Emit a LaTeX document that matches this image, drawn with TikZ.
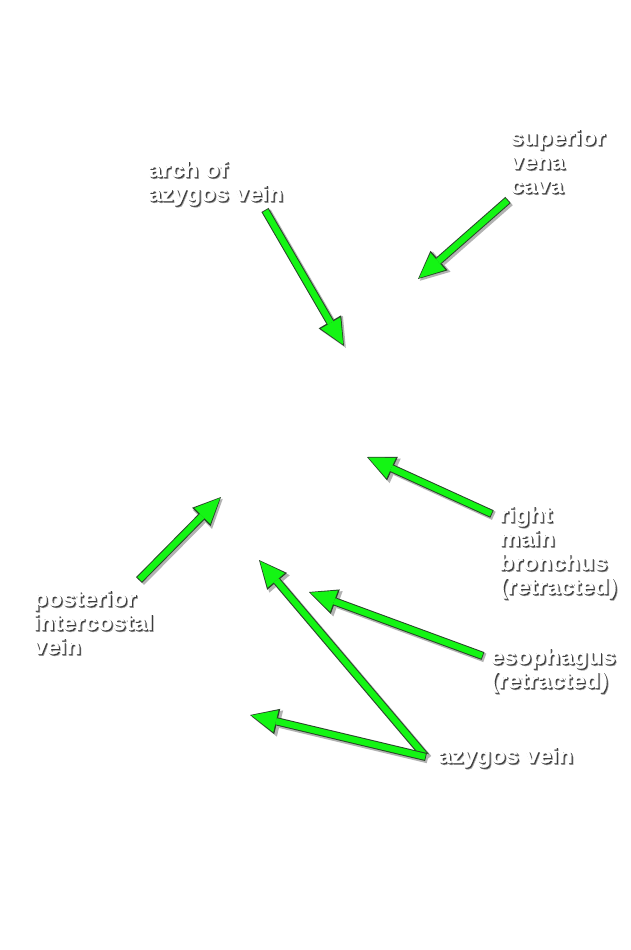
\documentclass[tikz,border=0pt]{standalone}
\usepackage{fontspec}
\usetikzlibrary{arrows.meta}
\newfontfamily\lblfont{Liberation Sans}[UprightFont={* Bold}, FakeStretch=1.08, FakeBold=1.2]
\definecolor{arrowgreen}{RGB}{20,245,20}
\definecolor{arrowedge}{RGB}{40,70,40}
\definecolor{txtshadow}{RGB}{60,60,60}
\newcommand\shline[1]{\hbox{\rlap{\kern1.8pt\raisebox{-1.8pt}{\textcolor{txtshadow!45}{#1}}}\rlap{\kern1.1pt\raisebox{-1.1pt}{\textcolor{txtshadow}{#1}}}\textcolor{white}{#1}}}
\newcommand\garrow[2]{%
  \draw[arrshadow] (#1) -- (#2);
  \draw[arredge] (#1) -- (#2);
  \draw[arrfill] (#1) -- (#2);}
\tikzset{
  lbl/.style={inner sep=0pt, anchor=base west, font=\lblfont\fontsize{22}{24}\selectfont},
  arrshadow/.style={draw=black!30, line width=9pt, -{Triangle[length=29pt,width=27pt,line width=0pt]}, transform canvas={xshift=1.8pt,yshift=-1.8pt}},
  arredge/.style={draw=arrowedge, line width=8.2pt, -{Triangle[length=28pt,width=26pt,line width=0pt]}},
  arrfill/.style={draw=arrowgreen, line width=6.2pt, shorten >=1.6pt, shorten <=0.9pt, -{Triangle[length=25pt,width=22.5pt,line width=0pt]}}
}
\begin{document}
\begin{tikzpicture}[x=1pt,y=-1pt]
\useasboundingbox (0,0) rectangle (631,950);
\fill[white] (0,0) rectangle (631,950);
% labels
\node[lbl] (arch) at (148,177) {\vtop{\shline{arch of}\shline{azygos vein}}};
\node[lbl] (svc) at (510,145) {\vtop{\shline{superior}\shline{vena}\shline{cava}}};
\node[lbl] (bron) at (499,522) {\vtop{\shline{right}\shline{main}\shline{bronchus}\shline{(retracted)}}};
\node[lbl] (post) at (33,606) {\vtop{\shline{posterior}\shline{intercostal}\shline{vein}}};
\node[lbl] (eso) at (490,664) {\vtop{\shline{esophagus}\shline{(retracted)}}};
\node[lbl] (azy) at (438,763) {\vtop{\shline{azygos vein}}};
% arrow ends
\coordinate (archT) at (265,210);  \coordinate (archH) at (344,346);
\coordinate (svcT) at (508,200);   \coordinate (svcH) at (418,279);
\coordinate (bronT) at (492,514);  \coordinate (bronH) at (367,457);
\coordinate (postT) at (139,580);  \coordinate (postH) at (221,497);
\coordinate (esoT) at (483,656);   \coordinate (esoH) at (309,592);
\coordinate (azyT) at (426,757);   \coordinate (azyH1) at (259,560); \coordinate (azyH2) at (250,715);
% arrows
\garrow{archT}{archH}
\garrow{svcT}{svcH}
\garrow{bronT}{bronH}
\garrow{postT}{postH}
\garrow{esoT}{esoH}
\garrow{azyT}{azyH1}
\garrow{azyT}{azyH2}
\end{tikzpicture}
\end{document}
